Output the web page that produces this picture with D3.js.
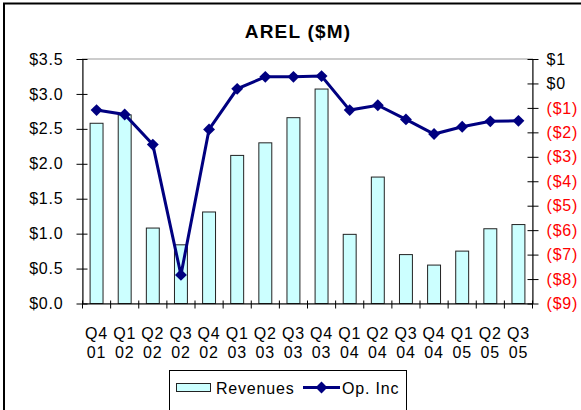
<!DOCTYPE html>
<meta charset="utf-8">
<head>
<title>AREL ($M)</title>
<script src="https://cdn.jsdelivr.net/npm/d3@7"></script>
<style>
  body { margin: 0; background: #fff; }
  text { font-family: "Liberation Sans", Arial, sans-serif; }
</style>
</head>
<body>
<div id="chart"></div>
<script>

const width = 581;
const height = 410;

const quarters = ["Q4 01", "Q1 02", "Q2 02", "Q3 02", "Q4 02", "Q1 03", "Q2 03", "Q3 03",
                  "Q4 03", "Q1 04", "Q2 04", "Q3 04", "Q4 04", "Q1 05", "Q2 05", "Q3 05"];
const revenues = [2.58, 2.7, 1.08, 0.84, 1.31, 2.12, 2.30, 2.66,
                  3.07, 0.99, 1.81, 0.70, 0.55, 0.75, 1.07, 1.13];
const opInc = [-1.09, -1.27, -2.5, -7.83, -1.88, -0.22, 0.27, 0.27,
               0.30, -1.09, -0.89, -1.47, -2.07, -1.77, -1.55, -1.53];
const leftTicks = [0, 0.5, 1, 1.5, 2, 2.5, 3, 3.5];
const rightTicks = [1, 0, -1, -2, -3, -4, -5, -6, -7, -8, -9];

const plot = {left: 82.5, right: 532.5, top: 59, bottom: 303.5};
const fs = "16px";
const ls = "0.8px";

const svg = d3.select("#chart")
  .append("svg")
  .attr("width", width)
  .attr("height", height);

// outer chart frame (only left and top visible in the crop)
svg.append("path")
  .attr("d", `M4,${height} V3.5 H${width}`)
  .attr("fill", "none")
  .attr("stroke", "#000")
  .attr("stroke-width", 2);

svg.append("text")
  .attr("x", 298)
  .attr("y", 38)
  .attr("text-anchor", "middle")
  .style("font-weight", "bold")
  .style("font-size", "19px")
  .style("letter-spacing", "1.2px")
  .text("AREL ($M)");

const x = d3.scaleBand()
  .domain(quarters)
  .range([plot.left, plot.right])
  .paddingInner(0.54)
  .paddingOuter(0.27);

const yL = d3.scaleLinear().domain([0, 3.5]).range([plot.bottom, plot.top]);
const yR = d3.scaleLinear().domain([-9, 1]).range([plot.bottom, plot.top]);

// plot area border (grey)
svg.append("rect")
  .attr("x", plot.left)
  .attr("y", plot.top)
  .attr("width", plot.right - plot.left)
  .attr("height", plot.bottom - plot.top)
  .attr("fill", "none")
  .attr("stroke", "#999");

// bars
svg.append("g")
  .selectAll("rect")
  .data(revenues)
  .join("rect")
    .attr("x", (d, i) => x(quarters[i]))
    .attr("y", d => yL(d))
    .attr("width", x.bandwidth())
    .attr("height", d => yL(0) - yL(d))
    .attr("fill", "#ccffff")
    .attr("stroke", "#222")
    .attr("stroke-width", 1);

// left axis
const axL = svg.append("g")
  .attr("transform", `translate(${plot.left},0)`)
  .call(d3.axisLeft(yL).tickValues(leftTicks).tickSizeInner(6).tickSizeOuter(0)
    .tickFormat(d => "$" + d.toFixed(1)));
axL.selectAll(".tick line").attr("x2", -6).attr("x1", 5);
axL.selectAll("text").attr("x", -19)
  .style("font-size", fs).style("letter-spacing", ls).attr("fill", "#000");

// right axis
const axR = svg.append("g")
  .attr("transform", `translate(${plot.right},0)`)
  .call(d3.axisRight(yR).tickValues(rightTicks).tickSizeOuter(0)
    .tickFormat(d => d < 0 ? `($${-d})` : `$${d}`));
axR.selectAll(".tick line").attr("x1", -5).attr("x2", 6);
axR.selectAll("text").attr("x", 14)
  .style("font-size", fs).style("letter-spacing", ls)
  .attr("fill", d => d < 0 ? "#ff0000" : "#000");

// bottom axis
const axB = svg.append("g")
  .attr("transform", `translate(0,${plot.bottom})`)
  .call(d3.axisBottom(x).tickSize(0).tickSizeOuter(0));
axB.select(".domain").attr("stroke", "#000");
axB.selectAll(".tick line").remove();
axB.selectAll(".tick text").each(function(d) {
  const parts = d.split(" ");
  const t = d3.select(this).text(null)
    .attr("y", null).attr("dy", null)
    .style("font-size", fs).style("letter-spacing", ls).attr("fill", "#000");
  t.append("tspan").attr("x", 0).attr("y", 35).text(parts[0]);
  t.append("tspan").attr("x", 0).attr("y", 54).text(parts[1]);
});
const step = x.step();
axB.append("g")
  .selectAll("line")
  .data(d3.range(quarters.length + 1))
  .join("line")
    .attr("x1", i => plot.left + i * step)
    .attr("x2", i => plot.left + i * step)
    .attr("y1", -3)
    .attr("y2", 5)
    .attr("stroke", "#000");

// op. inc line
const line = d3.line()
  .x((d, i) => x(quarters[i]) + x.bandwidth() / 2)
  .y(d => yR(d));

svg.append("path")
  .datum(opInc)
  .attr("d", line)
  .attr("fill", "none")
  .attr("stroke", "#000080")
  .attr("stroke-width", 3);

const diamond = d3.symbol().type(d3.symbolDiamond2).size(90);
svg.append("g")
  .selectAll("path")
  .data(opInc)
  .join("path")
    .attr("transform", (d, i) => `translate(${x(quarters[i]) + x.bandwidth() / 2},${yR(d)})`)
    .attr("d", diamond)
    .attr("fill", "#000080");

// legend
const lg = svg.append("g");
lg.append("rect")
  .attr("x", 169.5).attr("y", 370.5)
  .attr("width", 237).attr("height", 40)
  .attr("fill", "#fff").attr("stroke", "#000");
lg.append("rect")
  .attr("x", 176.5).attr("y", 383.5)
  .attr("width", 34).attr("height", 8)
  .attr("fill", "#ccffff").attr("stroke", "#222");
lg.append("text")
  .attr("x", 216).attr("y", 394)
  .style("font-size", fs).style("letter-spacing", ls)
  .text("Revenues");
lg.append("line")
  .attr("x1", 303).attr("x2", 340).attr("y1", 387.5).attr("y2", 387.5)
  .attr("stroke", "#000080").attr("stroke-width", 3);
lg.append("path")
  .attr("transform", "translate(321.5,387.5)")
  .attr("d", diamond)
  .attr("fill", "#000080");
lg.append("text")
  .attr("x", 342).attr("y", 394)
  .style("font-size", fs).style("letter-spacing", ls)
  .text("Op. Inc");

</script>
</body>
